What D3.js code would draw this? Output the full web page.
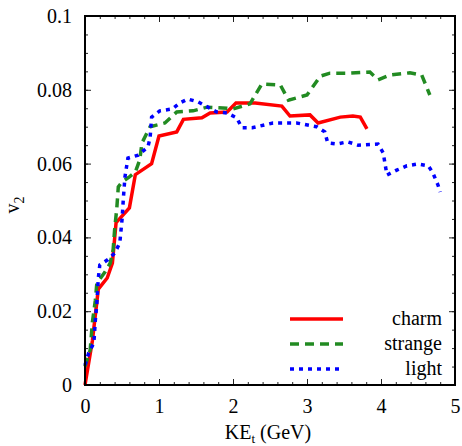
<!DOCTYPE html>
<html>
<head>
<meta charset="utf-8">
<script src="https://cdn.jsdelivr.net/npm/d3@7"></script>
<style>
  body { margin: 0; background: #fff; }
  svg text { font-family: "Liberation Serif", "Times New Roman", serif; fill: #000; }
</style>
</head>
<body>
<svg width="462" height="446"></svg>
<script>
  // data
  var keCharm = [0, 0.1, 0.18, 0.3, 0.37, 0.42, 0.6, 0.68, 0.9, 1.0, 1.24, 1.33, 1.58, 1.69, 1.92, 2.04, 2.3, 2.66, 2.77, 3.04, 3.15, 3.45, 3.62, 3.72, 3.81];
  var v2Charm = [0, 0.012, 0.026, 0.029, 0.033, 0.044, 0.048, 0.057, 0.060, 0.0675, 0.0686, 0.072, 0.0724, 0.0737, 0.074, 0.0764, 0.0764, 0.0756, 0.0729, 0.0732, 0.071, 0.0726, 0.0729, 0.0726, 0.0694];

  var keStrange = [0, 0.07, 0.1, 0.14, 0.16, 0.27, 0.34, 0.38, 0.4, 0.43, 0.45, 0.5, 0.6, 0.68, 0.74, 0.77, 0.88, 1.08, 1.24, 1.46, 1.65, 1.92, 2.0, 2.23, 2.39, 2.64, 2.75, 3.0, 3.18, 3.31, 3.55, 3.85, 3.96, 4.12, 4.39, 4.55, 4.66];
  var v2Strange = [0.005, 0.0095, 0.017, 0.023, 0.0276, 0.0306, 0.033, 0.0366, 0.042, 0.048, 0.0537, 0.055, 0.0564, 0.0577, 0.061, 0.0656, 0.070, 0.071, 0.074, 0.0743, 0.0753, 0.075, 0.0748, 0.0762, 0.0816, 0.0813, 0.0772, 0.0786, 0.0837, 0.0845, 0.0845, 0.0848, 0.0827, 0.084, 0.0846, 0.084, 0.0786];

  var keLight = [0, 0.05, 0.12, 0.14, 0.16, 0.18, 0.2, 0.31, 0.4, 0.47, 0.5, 0.52, 0.54, 0.58, 0.72, 0.85, 0.88, 0.9, 1.01, 1.18, 1.28, 1.39, 1.53, 1.66, 1.78, 1.92, 2.05, 2.12, 2.26, 2.54, 2.86, 3.13, 3.24, 3.28, 3.4, 3.55, 3.69, 3.96, 4.03, 4.08, 4.22, 4.35, 4.5, 4.64, 4.7, 4.77, 4.8];
  var v2Light = [0.0054, 0.0087, 0.0114, 0.0176, 0.022, 0.029, 0.0325, 0.034, 0.0357, 0.0385, 0.0447, 0.051, 0.0564, 0.0615, 0.0623, 0.0645, 0.067, 0.0726, 0.0743, 0.0748, 0.0764, 0.0775, 0.0767, 0.0753, 0.074, 0.0737, 0.0724, 0.0697, 0.0697, 0.071, 0.071, 0.070, 0.0686, 0.0656, 0.0653, 0.0659, 0.065, 0.0653, 0.0629, 0.0569, 0.0583, 0.0594, 0.0599, 0.0594, 0.0575, 0.0542, 0.0523];

  var seriesNames = ["charm", "strange", "light"];
  var xTicks = [0, 1, 2, 3, 4, 5];
  var yTicks = [0, 0.02, 0.04, 0.06, 0.08, 0.1];

  var series = [
    { name: seriesNames[0], ke: keCharm, v2: v2Charm, color: "#ff0000", dash: null },
    { name: seriesNames[1], ke: keStrange, v2: v2Strange, color: "#228b22", dash: "9,6" },
    { name: seriesNames[2], ke: keLight, v2: v2Light, color: "#0000ff", dash: "4,5" }
  ];

  // plot box (note: "top" is taken by window.top)
  var pLeft = 85, pRight = 455, pTop = 16, pBottom = 385;

  var svg = d3.select("svg");
  var x = d3.scaleLinear().domain([0, 5]).range([pLeft, pRight]);
  var y = d3.scaleLinear().domain([0, 0.1]).range([pBottom, pTop]);

  var xMinor = d3.range(0, 5.001, 0.2);
  var yMinor = d3.range(0, 0.1001, 0.005);

  // minor ticks, all four sides, pointing inwards
  function minorAxis(axis, trans, vals) {
    svg.append("g").attr("transform", trans)
      .call(axis.tickValues(vals).tickSize(-3).tickFormat(""))
      .call(function(g){ g.select(".domain").remove(); g.selectAll("line").attr("stroke-width", 1); });
  }
  minorAxis(d3.axisBottom(x), "translate(0," + pBottom + ")", xMinor);
  minorAxis(d3.axisTop(x), "translate(0," + pTop + ")", xMinor);
  minorAxis(d3.axisLeft(y), "translate(" + pLeft + ",0)", yMinor);
  minorAxis(d3.axisRight(y), "translate(" + pRight + ",0)", yMinor);

  // major ticks
  svg.append("g").attr("transform", "translate(0," + pBottom + ")")
    .call(d3.axisBottom(x).tickValues(xTicks).tickSize(-6).tickPadding(14).tickFormat(d3.format("d")));
  svg.append("g").attr("transform", "translate(" + pLeft + ",0)")
    .call(d3.axisLeft(y).tickValues(yTicks).tickSize(-6).tickPadding(13).tickFormat(function(d){ return d === 0 ? "0" : String(+d.toFixed(2)); }));
  svg.append("g").attr("transform", "translate(0," + pTop + ")")
    .call(d3.axisTop(x).tickValues(xTicks).tickSize(-6).tickFormat(""));
  svg.append("g").attr("transform", "translate(" + pRight + ",0)")
    .call(d3.axisRight(y).tickValues(yTicks).tickSize(-6).tickFormat(""));

  svg.selectAll(".domain").remove();
  svg.selectAll(".tick text").style("font-family", "Liberation Serif").style("font-size", "20px");
  svg.selectAll(".tick line").attr("stroke", "#222");

  // curves
  var line = d3.line()
    .x(function(d){ return x(d[0]); })
    .y(function(d){ return y(d[1]); });

  series.forEach(function(s){
    var pts = s.ke.map(function(k, i){ return [k, s.v2[i]]; });
    svg.append("path")
      .attr("d", line(pts))
      .attr("fill", "none")
      .attr("stroke", s.color)
      .attr("stroke-width", 3.5)
      .attr("stroke-linejoin", "miter")
      .attr("stroke-dasharray", s.dash);
  });

  // frame
  svg.append("rect")
    .attr("x", pLeft).attr("y", pTop)
    .attr("width", pRight - pLeft).attr("height", pBottom - pTop)
    .attr("fill", "none").attr("stroke", "#000").attr("stroke-width", 2);

  // legend
  var legY = [319, 344, 369];
  series.forEach(function(s, i){
    svg.append("line")
      .attr("x1", 290).attr("x2", 343)
      .attr("y1", legY[i]).attr("y2", legY[i])
      .attr("stroke", s.color).attr("stroke-width", 3.5)
      .attr("stroke-dasharray", s.dash);
    svg.append("text")
      .attr("x", 442).attr("y", legY[i] + 6)
      .attr("text-anchor", "end")
      .style("font-size", "20px")
      .text(s.name);
  });

  // axis titles
  var xt = svg.append("text")
    .attr("x", 268).attr("y", 439)
    .attr("text-anchor", "middle")
    .style("font-size", "20px");
  xt.append("tspan").text("KE");
  xt.append("tspan").attr("dy", 4).style("font-size", "13px").text("t");
  xt.append("tspan").attr("dy", -4).text(" (GeV)");

  var yt = svg.append("text")
    .attr("transform", "translate(19,205) rotate(-90)")
    .attr("text-anchor", "middle")
    .style("font-size", "20px");
  yt.append("tspan").text("v");
  yt.append("tspan").attr("dy", 5).style("font-size", "14px").text("2");
</script>
</body>
</html>
